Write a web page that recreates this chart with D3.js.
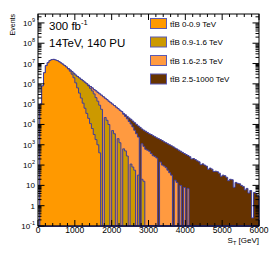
<!DOCTYPE html>
<html>
<head>
<meta charset="utf-8">
<script src="https://cdn.jsdelivr.net/npm/d3@7"></script>
<style>
  body { margin: 0; background: #fff; }
  svg { display: block; }
  text { font-family: "Liberation Sans", Arial, sans-serif; fill: #000; }
</style>
</head>
<body>
<div id="chart"></div>
<script>
// S_T histograms, 50 GeV bins starting at 0 (bin i = [50i, 50i+50])
const binWidth = 50;
const xMax = 6000;
const yMin = 0.1, yMax = 2.75e9;

const labels = ["0-0.9 TeV", "0.9-1.6 TeV", "1.6-2.5 TeV", "2.5-1000 TeV"];

const orangeVals = [0, 1.0e5, 7.9e5, 3.5e6, 7.9e6, 1.1e7, 1.4e7, 1.55e7, 1.6e7, 1.5e7,
  1.4e7, 1.23e7, 1.07e7, 9.3e6, 7.9e6, 6.7e6, 5.4e6, 4.2e6, 3.0e6, 2.0e6,
  1.12e6, 6.3e5, 3.5e5, 2.0e5, 1.12e5, 6.3e4, 3.5e4, 2.0e4, 1.1e4, 6.3e3,
  3.2e3, 1.8e3, 1.0e3, 400];

const oliveVals = [0, 0, 0, 0, 0, 0, 0, 0, 0, 0, 0, 0, 0, 0, 0, 0,
  5.6e6, 4.8e6, 4.0e6, 3.3e6, 2.7e6, 2.3e6, 1.95e6, 1.66e6, 1.41e6, 1.2e6,
  1.0e6, 7.9e5, 6.0e5, 4.5e5, 3.2e5, 2.1e5, 1.4e5, 8.9e4, 5.6e4, 0,
  2.2e4, 1.6e4, 1.0e4, 0, 5.0e3, 3.5e3, 0, 2.0e3, 1.26e3, 0,
  630, 500, 280, 0, 112, 80, 56, 0, 32, 0,
  20, 16];

const lightVals = [0, 0, 0, 0, 0, 0, 0, 0, 0, 0, 0, 0, 0, 0, 0, 0, 0, 0, 0, 0,
  0, 0, 0, 0, 0, 0, 0, 0,
  7.4e5, 6.3e5, 5.2e5, 4.5e5, 3.8e5, 3.2e5, 2.75e5, 2.3e5, 1.95e5, 1.66e5,
  1.38e5, 1.17e5, 1.0e5, 8.5e4, 7.1e4, 6.0e4, 5.0e4, 4.3e4,
  3.2e4, 2.5e4, 1.9e4, 1.4e4, 1.05e4, 7.6e3, 5.2e3, 3.5e3, 2.4e3, 0,
  1.12e3, 830, 600, 540, 480, 370, 290, 263, 224, 0,
  141, 100, 89, 75, 56, 42, 32, 0,
  18, 14, 0, 10, 0, 7.9, 0, 7.1];

const brownVals = [0, 1.0e5, 7.9e5, 3.5e6, 7.9e6, 1.1e7, 1.4e7, 1.55e7, 1.6e7, 1.5e7,
  1.4e7, 1.23e7, 1.07e7, 9.3e6, 7.9e6, 6.8e6, 5.6e6, 4.8e6, 4.0e6, 3.3e6,
  2.7e6, 2.3e6, 1.95e6, 1.66e6, 1.41e6, 1.2e6, 1.02e6, 8.7e5, 7.4e5, 6.3e5,
  5.2e5, 4.5e5, 3.8e5, 3.2e5, 2.75e5, 2.3e5, 1.95e5, 1.66e5, 1.38e5, 1.17e5,
  1.0e5, 8.5e4, 7.1e4, 6.0e4, 5.0e4, 4.3e4, 3.5e4, 3.0e4, 2.5e4, 2.1e4,
  1.8e4, 1.48e4, 1.23e4, 1.02e4, 8.5e3, 7.2e3, 6.0e3, 5.2e3, 4.6e3, 4.0e3,
  3.5e3, 3.2e3, 2.8e3, 2.5e3, 2.2e3, 2.0e3, 1.8e3, 1.6e3, 1.4e3, 1.26e3,
  1.12e3, 1.0e3, 890, 790, 690, 620, 540, 480, 420, 370,
  330, 295, 260, 200, 210, 186, 162, 145, 105, 115,
  100, 89, 62, 71, 63, 48, 50, 47, 40, 28,
  32, 30, 25, 17, 20, 19, 8, 14, 12.6, 12,
  10, 8.9, 6.0, 7.1, 4.2, 5.6, 0.25, 4.5, 4.0, 3.0];

const fillColors = ["#ff9900", "#cc9900", "#ff9a40", "#663300"];
const lineColor = "#3d3d9e";

const width = 270, height = 259;
const margin = {left: 38, right: 11, top: 14, bottom: 33};

const svg = d3.select("#chart").append("svg")
  .attr("width", width).attr("height", height);

const x = d3.scaleLinear().domain([0, xMax]).range([margin.left, width - margin.right]);
const y = d3.scaleLog().domain([yMin, yMax]).range([height - margin.bottom, margin.top]).clamp(true);
const yb = y(yMin);

// back to front: brown, light orange, olive, orange
const drawOrder = [
  {vals: brownVals, color: fillColors[3]},
  {vals: lightVals, color: fillColors[2]},
  {vals: oliveVals, color: fillColors[1]},
  {vals: orangeVals, color: fillColors[0]}
];

function histPoints(vals) {
  let pts = [[x(0), yb]];
  vals.forEach((v, i) => {
    let yy = v > 0 ? y(v) : yb;
    pts.push([x(i * binWidth), yy]);
    pts.push([x((i + 1) * binWidth), yy]);
  });
  pts.push([x(vals.length * binWidth), yb]);
  pts.push([x(xMax), yb]);
  return pts;
}

const line = d3.line();

svg.selectAll("path.hist")
  .data(drawOrder)
  .join("path")
  .attr("class", "hist")
  .attr("d", d => line(histPoints(d.vals)) + "Z")
  .attr("fill", d => d.color)
  .attr("stroke", lineColor)
  .attr("stroke-width", 1);

// frame
const x0 = x(0), x1 = x(xMax), y0 = y(yMin), y1 = y(yMax);
svg.append("rect")
  .attr("x", x0).attr("y", y1)
  .attr("width", x1 - x0).attr("height", y0 - y1)
  .attr("fill", "none").attr("stroke", "#000").attr("stroke-width", 1);

// x ticks (bottom and top, inward)
const xMajor = d3.range(0, xMax + 1, 1000);
const xMinor = d3.range(0, xMax + 1, 200);
const ticks = svg.append("g").attr("stroke", "#000").attr("stroke-width", 1);
xMinor.forEach(v => {
  let len = xMajor.includes(v) ? 6 : 3;
  ticks.append("line").attr("x1", x(v)).attr("x2", x(v)).attr("y1", y0).attr("y2", y0 - len);
  ticks.append("line").attr("x1", x(v)).attr("x2", x(v)).attr("y1", y1).attr("y2", y1 + len);
});

// y ticks (left and right, inward)
const yExps = d3.range(-1, 10);
yExps.forEach(e => {
  for (let k = 1; k <= 9; k++) {
    let v = k * Math.pow(10, e);
    if (v < yMin || v > yMax) continue;
    let len = k === 1 ? 6.5 : 3.5;
    ticks.append("line").attr("x1", x0).attr("x2", x0 + len).attr("y1", y(v)).attr("y2", y(v));
    ticks.append("line").attr("x1", x1).attr("x2", x1 - len).attr("y1", y(v)).attr("y2", y(v));
  }
});

// x tick labels
svg.append("g").selectAll("text")
  .data(xMajor)
  .join("text")
  .attr("x", d => x(d))
  .attr("y", y0 + 7)
  .attr("text-anchor", "middle")
  .attr("font-size", 8.5)
  .text(d => d);

// y tick labels
yExps.forEach(e => {
  let t = svg.append("text")
    .attr("x", x0 - 3)
    .attr("y", y(Math.pow(10, e)) + 3)
    .attr("text-anchor", "end")
    .attr("font-size", 8);
  if (e === 0) t.text("1");
  else if (e === 1) t.text("10");
  else {
    t.append("tspan").text("10");
    t.append("tspan").attr("dy", -4).attr("font-size", 5.5).text(e);
  }
});

// axis titles
svg.append("text")
  .attr("transform", `translate(${15},${y1}) rotate(-90)`)
  .attr("text-anchor", "end")
  .attr("font-size", 7)
  .text("Events");

const xt = svg.append("text")
  .attr("x", x1).attr("y", y0 + 16.5)
  .attr("text-anchor", "end")
  .attr("font-size", 8);
xt.append("tspan").text("S");
xt.append("tspan").attr("dy", 2).attr("font-size", 5.5).text("T");
xt.append("tspan").attr("dy", -2).text(" [GeV]");

// labels inside the plot
const lumi = svg.append("text").attr("x", 49).attr("y", 29.5).attr("font-size", 11.5);
lumi.append("tspan").text("300 fb");
lumi.append("tspan").attr("dy", -4.5).attr("font-size", 7.5).text("-1");
svg.append("text").attr("x", 49).attr("y", 47).attr("font-size", 11.5).text("14TeV, 140 PU");

// legend
const leg = svg.append("g");
labels.forEach((lab, i) => {
  let yy = 18.5 + i * 18.5;
  leg.append("rect")
    .attr("x", 150.5).attr("y", yy)
    .attr("width", 16).attr("height", 10)
    .attr("fill", fillColors[i]).attr("stroke", "#5a5ab4").attr("stroke-width", 1);
  leg.append("text")
    .attr("x", 170).attr("y", yy + 8.3)
    .attr("font-size", 8)
    .text("tt\u0304B " + lab);
});
</script>
</body>
</html>
